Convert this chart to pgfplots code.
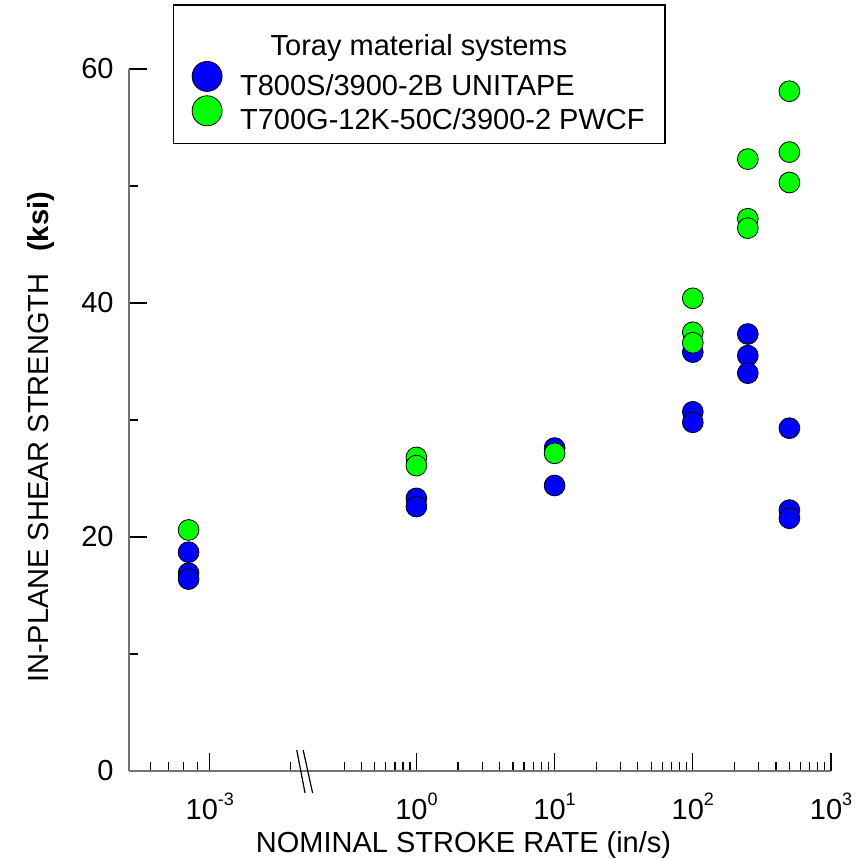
\documentclass[border=0pt]{standalone}
\usepackage{fontspec}
\setmainfont{Liberation Sans}
\usepackage{pgfplots}
\usepackage{pgfplotstable}
\pgfplotsset{compat=1.18}
\definecolor{ptblue}{RGB}{0,0,255}
\definecolor{ptgreen}{RGB}{0,255,0}
\definecolor{axgray}{RGB}{115,115,115}
\newcommand{\sfont}{\fontsize{14.5}{17}\selectfont}
\newcommand{\tsup}[1]{\raisebox{7pt}{\fontsize{9}{9}\selectfont #1}}

\pgfplotstableread{
x y
0.00083333 18.7
0.00083333 16.9
0.00083333 16.4
1 23.3
1 22.6
10 27.6
10 24.4
100 35.8
100 30.7
100 29.8
250 37.35
250 35.5
250 34.0
500 29.3
500 22.3
500 21.6
}\blueT

\pgfplotstableread{
x y
0.00083333 20.6
1 26.8
1 26.1
10 27.15
100 40.4
100 37.5
100 36.6
250 52.3
250 47.2
250 46.4
500 58.1
500 52.9
500 50.3
}\greenT

\begin{document}
\begin{tikzpicture}[font=\sfont]
\begin{axis}[
  width=351pt, height=351pt, scale only axis,
  xmin=-2.0793, xmax=3, ymin=0, ymax=60,
  axis lines*=left,
  axis line style={-, draw=axgray, line width=0.8pt},
  clip=false,
  tick align=inside,
  xtick pos=left, ytick pos=left,
  xtick={-1.4946,0,1,2,3},
  xticklabels={10\tsup{-3},10\tsup{0},10\tsup{1},10\tsup{2},10\tsup{3}},
  minor xtick={-1.9254,-1.7955,-1.6828,-1.5835,-0.9099,
    -0.5229,-0.3979,-0.3010,-0.2218,-0.1549,-0.0969,-0.0458,
    0.3010,0.4771,0.6021,0.6990,0.7782,0.8451,0.9031,0.9542,
    1.3010,1.4771,1.6021,1.6990,1.7782,1.8451,1.9031,1.9542,
    2.3010,2.4771,2.6021,2.6990,2.7782,2.8451,2.9031,2.9542},
  ytick={0,20,40,60}, yticklabels={0,20,40,60},
  minor ytick={10,30,50},
  major tick length=8.85pt, minor tick length=4.35pt,
  every tick/.style={black, line width=0.6pt},
  xticklabel style={font=\sfont, inner sep=0pt, anchor=north, yshift=-11pt},
  yticklabel style={font=\sfont, xshift=-4.2pt},
  xlabel={NOMINAL STROKE RATE (in/s)},
  xlabel style={at={(axis description cs:0.4765,-0.1168)}, anchor=base, inner sep=0pt, font=\sfont},
  ylabel={IN-PLANE SHEAR STRENGTH\hspace{11pt}\textbf{(ksi)}},
  ylabel style={at={(axis description cs:-0.1254,0.475)}, anchor=center, inner sep=0pt, font=\sfont},
  legend image code/.code={\draw[#1, mark size=7.5pt] plot coordinates {(0pt,5pt)};},
  legend style={at={(axis description cs:0.0893,1.0114)}, anchor=north west,
    draw=none, fill=none, inner sep=0pt, nodes={inner sep=0pt}, column sep=9pt,
    row sep=-1.3pt, font=\sfont},
  legend cell align=left,
]
\path (axis description cs:-0.1838,-0.1254) rectangle (axis description cs:1.037,1.0983);
\draw[black, line width=0.6pt] (axis description cs:0.0631,0.8942) rectangle (axis description cs:0.7635,1.0912);
\node[anchor=base, inner sep=0pt, font=\sfont] at (axis description cs:0.413,1.0199) {Toray material systems};
\draw[black, line width=0.6pt] (axis description cs:0.2389,0.0299) -- (axis description cs:0.2507,-0.0313);
\draw[black, line width=0.6pt] (axis description cs:0.2481,0.0299) -- (axis description cs:0.2615,-0.0313);

\addplot[only marks, mark=*, mark size=5.2pt, mark options={fill=ptblue, draw=black, line width=0.4pt}]
  table[x expr={\thisrow{x}<0.1 ? -1.4946+1.9422*(ln(\thisrow{x})*0.4342945+3) : ln(\thisrow{x})*0.4342945}, y=y] {\blueT};
\addlegendentry{T800S/3900-2B UNITAPE}
\addplot[only marks, mark=*, mark size=5.2pt, mark options={fill=ptgreen, draw=black, line width=0.4pt}]
  table[x expr={\thisrow{x}<0.1 ? -1.4946+1.9422*(ln(\thisrow{x})*0.4342945+3) : ln(\thisrow{x})*0.4342945}, y=y] {\greenT};
\addlegendentry{T700G-12K-50C/3900-2 PWCF}
\end{axis}
\end{tikzpicture}
\end{document}
